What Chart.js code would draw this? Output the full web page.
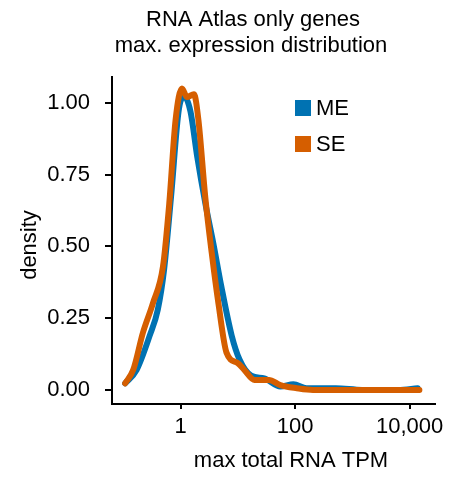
<!DOCTYPE html>
<html>
<head>
<meta charset="utf-8">
<script src="https://cdn.jsdelivr.net/npm/chart.js@4.4.1/dist/chart.umd.min.js"></script>
<style>
  body { margin: 0; background: #fff; }
  #wrap { width: 449px; height: 480px; }
</style>
</head>
<body>
<div id="wrap"><canvas id="myChart" width="449" height="480"></canvas></div>
<script>
// values (x = max total RNA TPM, y = density)
var meX = [0.107, 0.17, 0.288, 0.398, 0.513, 0.676, 0.933, 1.17, 1.48, 1.95, 2.69, 3.72, 5.13, 7.76, 10.7, 17, 28.8, 55, 93, 158, 513, 1480, 6300, 13800]
var meY = [0.023, 0.07, 0.19, 0.28, 0.42, 0.67, 0.98, 1.02, 0.97, 0.81, 0.65, 0.51, 0.36, 0.19, 0.105, 0.05, 0.04, 0.012, 0.02, 0.006, 0.006, 0, 0, 0.006]
var seX = [0.107, 0.148, 0.219, 0.324, 0.49, 0.631, 0.813, 1.05, 1.29, 1.70, 2.04, 2.69, 3.47, 4.57, 6.31, 10, 12.9, 19.5, 34.7, 55, 107, 204, 1000, 14800]
var seY = [0.023, 0.07, 0.20, 0.30, 0.43, 0.65, 0.94, 1.05, 1.02, 1.03, 0.94, 0.67, 0.48, 0.30, 0.13, 0.093, 0.07, 0.035, 0.035, 0.017, 0.006, 0, 0, 0]
var seriesNames = ['ME', 'SE']
var seriesColors = ['#0072B2', '#D55E00']
var xTicks = [1, 100, 10000]
var yTicks = [0, 0.25, 0.5, 0.75, 1.0]
var titleLines = ['RNA Atlas only genes', 'max. expression distribution']

function pts(xs, ys) {
    return xs.map(function (x, i) { return { x: x, y: ys[i] } })
}

var FONT = '"Liberation Sans", Arial, Helvetica, sans-serif'

// title, legend and axis titles
var extras = {
    id: 'extras',
    afterDraw: function (chart) {
        var c = chart.ctx
        c.save()
        c.fillStyle = '#000'
        c.textAlign = 'center'
        c.textBaseline = 'middle'
        c.font = '22px ' + FONT
        c.fillText(titleLines[0], 253, 20)
        c.fillText(titleLines[1], 251, 46)
        // x title
        c.fillText('max total RNA TPM', 291, 461)
        // y title
        c.save()
        c.translate(30, 245)
        c.rotate(-Math.PI / 2)
        c.fillText('density', 0, 0)
        c.restore()
        // legend
        c.textAlign = 'left'
        c.font = '22px ' + FONT
        var ly = [108, 144]
        for (var i = 0; i < seriesNames.length; i++) {
            c.fillStyle = seriesColors[i]
            c.fillRect(295, ly[i] - 8, 16, 16)
            c.fillStyle = '#000'
            c.fillText(seriesNames[i], 316, ly[i] + 1)
        }
        c.restore()
    }
}

const ctx = document.getElementById('myChart').getContext('2d')
const myChart = new Chart(ctx, {
    type: 'line',
    data: {
        datasets: [{
            label: seriesNames[0],
            data: pts(meX, meY),
            borderColor: seriesColors[0],
            borderWidth: 6,
            order: 2
        }, {
            label: seriesNames[1],
            data: pts(seX, seY),
            borderColor: seriesColors[1],
            borderWidth: 6,
            order: 1
        }]
    },
    options: {
        responsive: false,
        animation: false,
        layout: { padding: { top: 77, right: 9, left: 0, bottom: 0 } },
        elements: {
            point: { radius: 0 },
            line: { cubicInterpolationMode: 'monotone', borderCapStyle: 'round', borderJoinStyle: 'round', fill: false }
        },
        plugins: {
            legend: { display: false },
            title: { display: false },
            tooltip: { enabled: false }
        },
        scales: {
            x: {
                type: 'logarithmic',
                min: 0.063,
                max: 28000,
                afterBuildTicks: function (s) { s.ticks = xTicks.map(function (v) { return { value: v } }) },
                afterFit: function (s) { s.height = 76 },
                grid: { display: true, drawOnChartArea: false, drawTicks: true, tickLength: 5, color: '#000', lineWidth: 2 },
                border: { display: true, color: '#000', width: 2 },
                ticks: {
                    color: '#000',
                    font: { family: FONT, size: 22 },
                    padding: 5,
                    maxRotation: 0,
                    callback: function (v) { return Number(v).toLocaleString('en-US') }
                }
            },
            y: {
                min: -0.049,
                max: 1.09,
                afterBuildTicks: function (s) { s.ticks = yTicks.map(function (v) { return { value: v } }) },
                afterFit: function (s) { s.width = 112 },
                grid: { display: true, drawOnChartArea: false, drawTicks: true, tickLength: 7, color: '#000', lineWidth: 2 },
                border: { display: true, color: '#000', width: 2 },
                ticks: {
                    color: '#000',
                    font: { family: FONT, size: 22 },
                    padding: 15,
                    callback: function (v) { return Number(v).toFixed(2) }
                }
            }
        }
    },
    plugins: [extras]
})
</script>
</body>
</html>
